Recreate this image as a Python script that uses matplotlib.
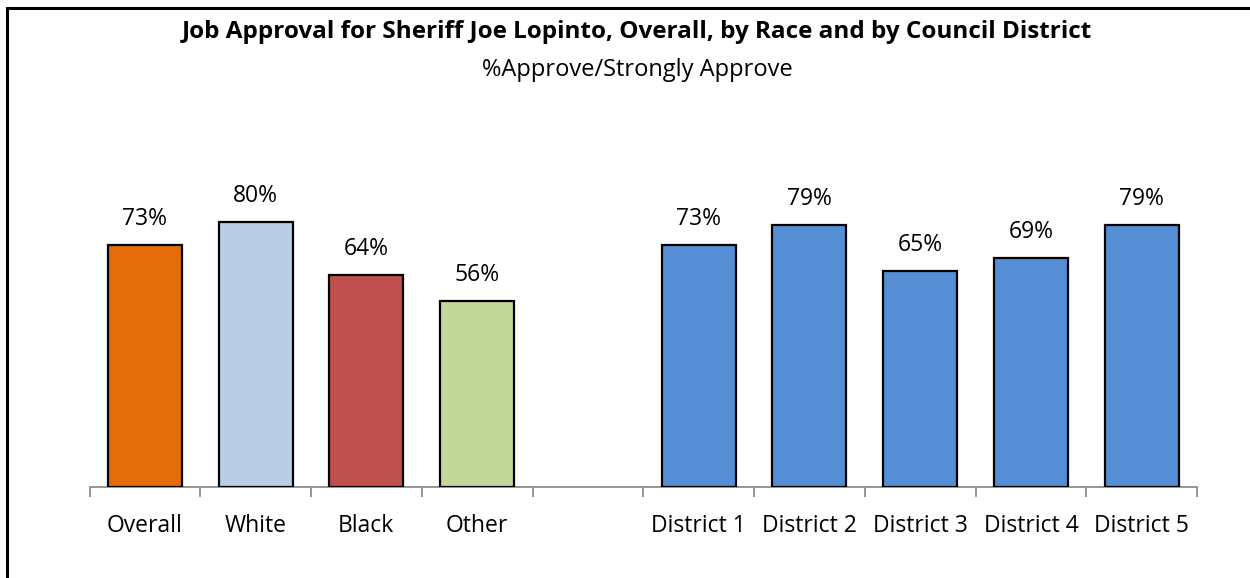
import matplotlib
matplotlib.use("Agg")
import matplotlib.pyplot as plt
from matplotlib.patches import Rectangle

# race group
race_labels = ["Overall", "White", "Black", "Other"]
race_values = [73, 80, 64, 56]
race_colors = ["#E46C0A", "#B9CDE5", "#C0504D", "#C4D79B"]

# council districts
district_labels = ["District 1", "District 2", "District 3", "District 4", "District 5"]
district_values = [73, 79, 65, 69, 79]
district_color = "#558ED5"

TITLE = "Job Approval for Sheriff Joe Lopinto, Overall, by Race and by Council District"
SUBTITLE = "%Approve/Strongly Approve"

plt.rcParams["font.family"] = ["Open Sans", "DejaVu Sans"]

fig = plt.figure(figsize=(12.5, 5.78), dpi=100)
ax = fig.add_axes([89.5 / 1250, 1 - 486.5 / 578, (1197 - 89.5) / 1250, 331 / 578])

# one empty slot between the two groups
labels = race_labels + [""] + district_labels
values = race_values + [None] + district_values
colors = race_colors + [None] + [district_color] * len(district_labels)

for i, (v, c) in enumerate(zip(values, colors)):
    if v is None:
        continue
    ax.bar(i, v, width=0.67, color=c, edgecolor="black", linewidth=1.6, zorder=3)
    ax.text(i, v + 4.2, f"{v}%", ha="center", va="bottom", fontsize=16.5)

ax.set_xlim(-0.5, len(labels) - 0.5)
ax.set_ylim(0, 100)
ax.set_xticks(range(len(labels)))
ax.set_xticklabels(labels, fontsize=16.5)
ax.set_xticks([i - 0.5 for i in range(len(labels) + 1)], minor=True)
ax.tick_params(axis="x", which="major", length=0, pad=20)
ax.tick_params(axis="x", which="minor", length=7, width=1.3, color="#8c8c8c")
ax.set_yticks([])
for s in ["top", "right", "left"]:
    ax.spines[s].set_visible(False)
ax.spines["bottom"].set_color("#8c8c8c")
ax.spines["bottom"].set_linewidth(1.3)

fig.text(637 / 1250, 1 - 32 / 578, TITLE, ha="center", va="center",
         fontsize=17.5, fontweight="bold")
fig.text(637 / 1250, 1 - 70 / 578, SUBTITLE, ha="center", va="center", fontsize=17)

# chart border (runs off right and bottom edges)
fig.patches.append(Rectangle((6.5 / 1250, -0.1), 1.2, 1.1 - 8 / 578,
                             transform=fig.transFigure, fill=False,
                             edgecolor="black", linewidth=2.2))

fig.savefig("out.png", dpi=100)
